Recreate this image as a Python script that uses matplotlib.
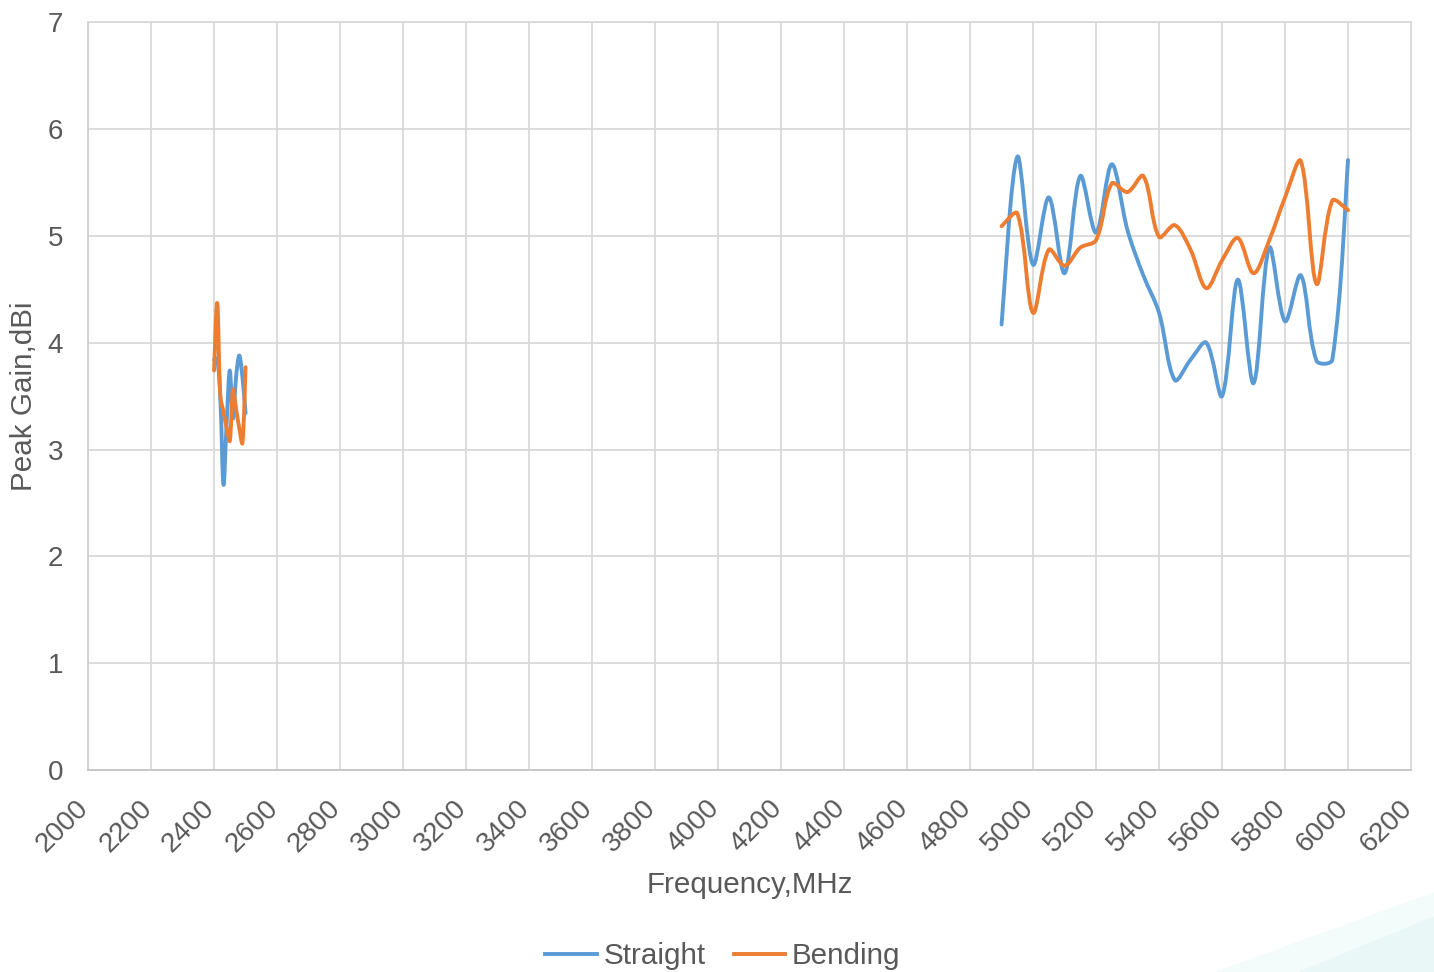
import matplotlib.pyplot as plt
import numpy as np
from matplotlib.path import Path
from matplotlib.patches import PathPatch, Polygon
from matplotlib.lines import Line2D
from matplotlib.transforms import ScaledTranslation

plt.rcParams['font.family'] = ['Liberation Sans', 'DejaVu Sans']

# 2.4 GHz band
freq_24 = [2400, 2410, 2420, 2430, 2440, 2450, 2460, 2470, 2480, 2490, 2500]
straight_24 = [3.84, 3.85, 3.48, 2.67, 3.25, 3.74, 3.29, 3.68, 3.88, 3.68, 3.34]
bending_24 = [3.74, 4.37, 3.50, 3.35, 3.20, 3.08, 3.56, 3.38, 3.20, 3.06, 3.77]

# 5 GHz band
freq_5 = [4900, 4950, 5000, 5050, 5100, 5150, 5200, 5250, 5300, 5350, 5400, 5450,
          5500, 5550, 5600, 5650, 5700, 5750, 5800, 5850, 5900, 5950, 6000]
straight_5 = [4.17, 5.74, 4.73, 5.36, 4.65, 5.56, 5.03, 5.67, 5.05, 4.63, 4.28, 3.65,
              3.84, 4.00, 3.50, 4.59, 3.62, 4.89, 4.20, 4.63, 3.83, 3.84, 5.71]
bending_5 = [5.09, 5.21, 4.28, 4.87, 4.72, 4.89, 4.96, 5.49, 5.41, 5.56, 4.99, 5.10,
             4.87, 4.51, 4.77, 4.98, 4.65, 4.96, 5.36, 5.70, 4.55, 5.33, 5.24]

BLUE = '#5B9BD5'
ORANGE = '#ED7D31'
GRAY_TXT = '#595959'
GRID = '#d9d9d9'


def smooth_path(ax, x, y):
    # smoothed line: Catmull-Rom style bezier, arms weighted by segment length (screen space)
    p = ax.transData.transform(np.column_stack([x, y]).astype(float))
    n = len(p)
    ext = np.vstack([p[0], p, p[-1]])
    seg = np.hypot(*np.diff(ext, axis=0).T)  # seg[k] = |ext[k+1]-ext[k]|
    verts = [p[0]]
    codes = [Path.MOVETO]
    for i in range(n - 1):
        p0, p1, p2, p3 = ext[i], ext[i + 1], ext[i + 2], ext[i + 3]
        L_prev, L, L_next = seg[i], seg[i + 1], seg[i + 2]
        w1 = L / (L_prev + L) if L_prev > 0 else 0.5
        w2 = L / (L + L_next) if L_next > 0 else 0.5
        c1 = p1 + (p2 - p0) * w1 / 3.0
        c2 = p2 - (p3 - p1) * w2 / 3.0
        dx = p2[0] - p1[0]
        # keep the curve moving forward in x
        if (c1[0] - p1[0]) + (p2[0] - c2[0]) > dx:
            k = dx / ((c1[0] - p1[0]) + (p2[0] - c2[0]))
            c1 = p1 + (c1 - p1) * k
            c2 = p2 + (c2 - p2) * k
        verts += [c1, c2, p2]
        codes += [Path.CURVE4] * 3
    verts = ax.transData.inverted().transform(np.array(verts))
    return Path(verts, codes)


fig = plt.figure(figsize=(14.34, 9.72), dpi=100)

# faint decoration in the lower right corner
fig.patches.append(Polygon([[1217 / 1434, 0], [1, 79 / 972], [1, 0]], closed=True,
                           transform=fig.transFigure, color='#f4fbfb', zorder=0))
fig.patches.append(Polygon([[1300 / 1434, 0], [1, 55 / 972], [1, 0]], closed=True,
                           transform=fig.transFigure, color='#eaf7f7', zorder=0))

ax = fig.add_axes([0.0614, 0.2078, 0.9226, 0.7694])
ax.set_xlim(2000, 6200)
ax.set_ylim(0, 7)

for xs, ys, col in [(freq_24, straight_24, BLUE), (freq_5, straight_5, BLUE),
                    (freq_24, bending_24, ORANGE), (freq_5, bending_5, ORANGE)]:
    ax.add_patch(PathPatch(smooth_path(ax, xs, ys), fill=False, edgecolor=col,
                           lw=2.8, capstyle='round', joinstyle='round', zorder=3))

ax.set_xticks(np.arange(2000, 6201, 200))
ax.set_yticks(np.arange(0, 8, 1))
ax.grid(True, color=GRID, lw=1.3)
ax.set_axisbelow(True)
for s in ax.spines.values():
    s.set_color(GRID)
    s.set_linewidth(1.3)
ax.spines['bottom'].set_color('#c4c4c4')
ax.spines['left'].set_color('#cfcfcf')

ax.tick_params(axis='both', length=0, labelsize=20, labelcolor=GRAY_TXT)
ax.tick_params(axis='y', pad=18)
ax.tick_params(axis='x', pad=18)
shift = ScaledTranslation(6 / 100, 0, fig.dpi_scale_trans)
for lab in ax.get_xticklabels():
    lab.set_rotation(45)
    lab.set_ha('right')
    lab.set_va('top')
    lab.set_transform(lab.get_transform() + shift)

ax.set_xlabel('Frequency,MHz', fontsize=21.3, color=GRAY_TXT, labelpad=10)
ax.set_ylabel('Peak Gain,dBi', fontsize=21.3, color=GRAY_TXT, labelpad=7)

handles = [Line2D([], [], color=BLUE, lw=2.8), Line2D([], [], color=ORANGE, lw=2.8)]
fig.legend(handles, ['Straight', 'Bending'], loc='center', bbox_to_anchor=(0.504, 0.0165),
           ncol=2, frameon=False, fontsize=21.3, labelcolor=GRAY_TXT,
           handlelength=1.75, handletextpad=0.22, columnspacing=0.95)

fig.savefig('out.png', dpi=100)
